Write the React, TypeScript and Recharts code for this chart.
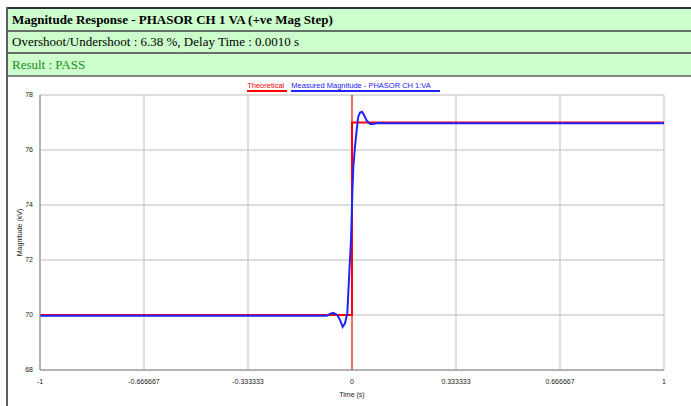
import React from "react";
import {
  LineChart,
  Line,
  XAxis,
  YAxis,
  CartesianGrid,
  ReferenceLine,
  Legend,
} from "recharts";

const xTicks = [-1, -0.666667, -0.333333, 0, 0.333333, 0.666667, 1];
const xTickLabels = ["-1", "-0.666667", "-0.333333", "0", "0.333333", "0.666667", "1"];
const yTicks = [68, 70, 72, 74, 76, 78];

const theoreticalT = [-1, 0, 0, 1];
const theoreticalV = [70, 70, 77, 77];

const measuredT = [
  -1, -0.081, -0.0705, -0.06, -0.047, -0.0385, -0.03, -0.0224, -0.015, -0.0085,
  -0.0032, -0.001, 0.001, 0.0043, 0.0096, 0.015, 0.02, 0.0256, 0.032, 0.0385,
  0.047, 0.058, 0.068, 0.081, 0.1, 1,
];
const measuredV = [
  69.97, 69.97, 70.04, 70.08, 70.0, 69.82, 69.57, 69.7, 70.06, 71.58,
  72.73, 73.58, 74.42, 75.39, 76.12, 76.73, 77.21, 77.36, 77.39, 77.27,
  77.07, 76.95, 76.95, 76.98, 76.97, 76.97,
];

const theoretical = theoreticalT.map((t, i) => ({ t, v: theoreticalV[i] }));
const measured = measuredT.map((t, i) => ({ t, v: measuredV[i] }));

const legendItems = [
  { name: "Theoretical", color: "#ff0000", extra: 3 },
  { name: "Measured Magnitude - PHASOR CH 1:VA", color: "#2222ff", extra: 9 },
];

const chartFont = '"Liberation Sans", Arial, sans-serif';

const LegendContent = () => (
  <div
    style={{
      display: "flex",
      justifyContent: "center",
      fontFamily: chartFont,
      fontSize: 7.5,
      lineHeight: "9px",
    }}
  >
    {legendItems.map((it) => (
      <span
        key={it.name}
        style={{
          color: it.color,
          borderBottom: `2px solid ${it.color}`,
          paddingRight: it.extra,
          marginRight: 4,
        }}
      >
        {it.name}
      </span>
    ))}
  </div>
);

const rowStyle: React.CSSProperties = {
  background: "#ccffcc",
  paddingLeft: 4,
  fontFamily: '"Liberation Serif", "Times New Roman", serif',
  fontSize: 13,
  display: "flex",
  alignItems: "center",
  boxSizing: "border-box",
};

export default function App() {
  return (
    <div
      style={{
        position: "absolute",
        left: 0,
        top: 0,
        width: 691,
        height: 406,
        overflow: "hidden",
        background: "#fff",
      }}
    >
      <div
        style={{
          position: "absolute",
          left: 6,
          top: 7,
          width: 2,
          height: 410,
          background: "#5a6068",
        }}
      />
      <div
        style={{
          position: "absolute",
          left: 8,
          top: 7,
          width: 700,
          borderTop: "2px solid #27323a",
        }}
      >
        <div style={{ ...rowStyle, height: 21, fontWeight: "bold", color: "#000" }}>
          Magnitude Response - PHASOR CH 1 VA (+ve Mag Step)
        </div>
        <div style={{ height: 2, background: "#66706a" }} />
        <div style={{ ...rowStyle, height: 20, color: "#000" }}>
          Overshoot/Undershoot : 6.38 %, Delay Time : 0.0010 s
        </div>
        <div style={{ height: 2, background: "#66706a" }} />
        <div style={{ ...rowStyle, height: 21, color: "#228b22" }}>Result : PASS</div>
        <div style={{ height: 2, background: "#808880" }} />
      </div>
      <div style={{ position: "absolute", left: 0, top: 0 }}>
        <LineChart
          width={691}
          height={406}
          margin={{ top: 95, right: 27, bottom: 6, left: 20 }}
        >
          <CartesianGrid stroke="#bdbdbd" strokeWidth={1} />
          <XAxis
            type="number"
            dataKey="t"
            domain={[-1, 1]}
            ticks={xTicks}
            interval={0}
            tickFormatter={(_v: number, i: number) => xTickLabels[i]}
            tickLine={false}
            tickSize={6}
            tickMargin={3}
            height={30}
            axisLine={{ stroke: "#8a8a8a" }}
            tick={{ fontSize: 7, fill: "#222", fontFamily: chartFont }}
            allowDataOverflow
            label={{
              value: "Time (s)",
              position: "insideBottom",
              offset: 3,
              style: { fontSize: 7, fill: "#222", fontFamily: chartFont },
            }}
          />
          <YAxis
            type="number"
            domain={[68, 78]}
            ticks={yTicks}
            interval={0}
            width={20}
            tickLine={false}
            tickSize={6}
            tickMargin={1}
            axisLine={{ stroke: "#8a8a8a" }}
            tick={{ fontSize: 7, fill: "#222", fontFamily: chartFont }}
            allowDataOverflow
            label={{
              value: "Magnitude (kV)",
              angle: -90,
              position: "insideLeft",
              offset: 0,
              style: { fontSize: 7, fill: "#222", fontFamily: chartFont, textAnchor: "middle" },
            }}
          />
          <Legend
            layout="horizontal"
            verticalAlign="middle"
            align="center"
            content={<LegendContent />}
            wrapperStyle={{ position: "absolute", top: 81, left: 0, width: 691 }}
          />
          <ReferenceLine x={0} stroke="#ff0000" strokeWidth={1} />
          <Line
            data={theoretical}
            dataKey="v"
            name="Theoretical"
            type="linear"
            stroke="#ff0000"
            strokeWidth={2}
            dot={false}
            isAnimationActive={false}
            legendType="none"
          />
          <Line
            data={measured}
            dataKey="v"
            name="Measured Magnitude - PHASOR CH 1:VA"
            type="linear"
            stroke="#2222ff"
            strokeWidth={2}
            dot={false}
            isAnimationActive={false}
            legendType="none"
          />
        </LineChart>
      </div>
    </div>
  );
}
